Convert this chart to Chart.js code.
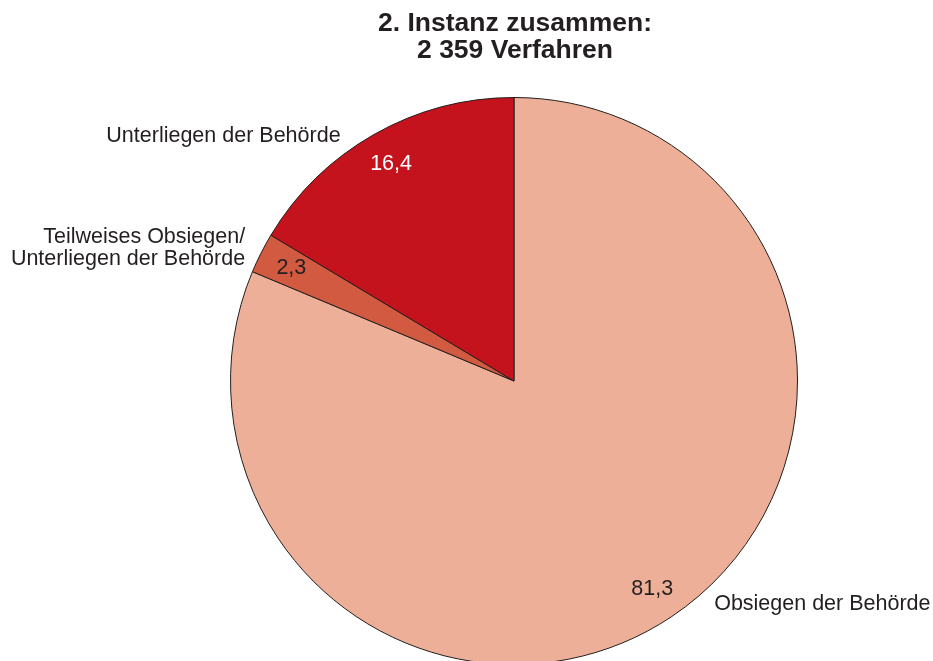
<!DOCTYPE html>
<html>
<head>
<meta charset="utf-8">
<script src="https://cdn.jsdelivr.net/npm/chart.js@4"></script>
<style>
    html, body { margin: 0; padding: 0; background: #fff; overflow: hidden; }
    #wrap { position: relative; width: 933px; height: 700px; }
</style>
</head>
<body>
<div id="wrap"><canvas id="pieChart"></canvas></div>
<script>
// Anteile in Prozent, im Uhrzeigersinn ab 12 Uhr
const categories = [
    ["Obsiegen der Behörde"],
    ["Teilweises Obsiegen/", "Unterliegen der Behörde"],
    ["Unterliegen der Behörde"]
];
const shares = [81.3, 2.3, 16.4];
const sliceColors = ["#EDAF97", "#D25A40", "#C4131C"];
const titleLines = ["2. Instanz zusammen:", "2 359 Verfahren"];

// Position der Kategorienamen relativ zur Sektormitte
const nameOffsetDeg = [-8.2, -0.5, -5.8];
const nameAlign = ["left", "right", "right"];
const valueColors = ["#231F20", "#231F20", "#FFFFFF"];

const FONT = "'Liberation Sans', Arial, Helvetica, sans-serif";

const labelPlugin = {
    id: "pieLabels",
    afterDraw(chart) {
        const ctx = chart.ctx;
        ctx.save();

        // Titel
        ctx.fillStyle = "#231F20";
        ctx.font = "bold 26.5px " + FONT;
        ctx.textAlign = "center";
        ctx.textBaseline = "alphabetic";
        ctx.fillText(titleLines[0], 515, 31);
        ctx.fillText(titleLines[1], 515, 58);

        const arcs = chart.getDatasetMeta(0).data;
        arcs.forEach((arc, i) => {
            const p = arc.getProps(["x", "y", "startAngle", "endAngle", "outerRadius"], true);
            const mid = (p.startAngle + p.endAngle) / 2;

            // Wert im Sektor
            const vr = p.outerRadius * 0.88;
            ctx.font = "21.5px " + FONT;
            ctx.textAlign = "center";
            ctx.textBaseline = "middle";
            ctx.fillStyle = valueColors[i];
            ctx.fillText(shares[i].toFixed(1).replace(".", ","),
                p.x + Math.cos(mid) * vr, p.y + Math.sin(mid) * vr);

            // Kategoriename außen
            const a = mid + nameOffsetDeg[i] * Math.PI / 180;
            const nr = p.outerRadius * 1.058;
            const nx = p.x + Math.cos(a) * nr;
            const ny = p.y + Math.sin(a) * nr;
            const lines = categories[i];
            const lh = 22;
            ctx.fillStyle = "#231F20";
            ctx.textAlign = nameAlign[i];
            lines.forEach((line, k) => {
                ctx.fillText(line, nx, ny + (k - (lines.length - 1) / 2) * lh);
            });
        });
        ctx.restore();
    }
};

new Chart(document.getElementById("pieChart"), {
    type: "pie",
    data: {
        labels: categories.map(c => c.join(" ")),
        datasets: [{
            data: shares,
            backgroundColor: sliceColors,
            borderColor: "#231F20",
            borderWidth: 1
        }]
    },
    options: {
        responsive: true,
        maintainAspectRatio: false,
        animation: false,
        layout: { padding: { top: 97, bottom: 35, left: 95, right: 0 } },
        plugins: {
            legend: { display: false },
            tooltip: { enabled: false },
            title: { display: false }
        }
    },
    plugins: [labelPlugin]
});
</script>
</body>
</html>
